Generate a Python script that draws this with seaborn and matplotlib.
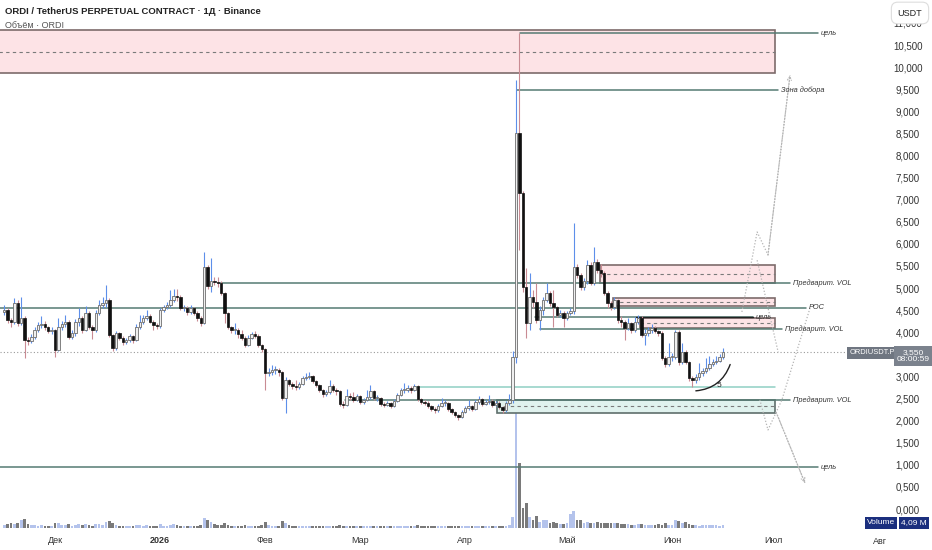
import numpy as np
import pandas as pd
import matplotlib
matplotlib.use("Agg")
import matplotlib.pyplot as plt
import seaborn as sns
from matplotlib.patches import Rectangle

# ----------------------------
# DATA (daily candles, USDT)
# ----------------------------
start_date = "2025-11-16"
first_open = 4.45

close = [4.50, 4.28, 4.23, 4.66, 4.21, 4.32, 3.82, 3.80, 3.89, 4.05,
         4.16, 4.19, 4.12, 4.03, 4.05, 3.60, 4.12, 4.19, 4.23, 3.89,
         3.98, 4.23, 4.32, 4.05, 4.43, 4.12, 4.05, 4.43, 4.62, 4.66,
         4.73, 3.94, 3.64, 3.98, 3.87, 3.78, 3.82, 3.91, 3.82, 4.12,
         4.23, 4.32, 4.37, 4.23, 4.16, 4.14, 4.50, 4.57, 4.62, 4.73,
         4.82, 4.80, 4.55, 4.55, 4.46, 4.55, 4.43, 4.32, 4.21, 5.48,
         5.05, 5.16, 5.14, 5.11, 4.89, 4.43, 4.12, 4.05, 4.05, 3.96,
         3.87, 3.71, 3.87, 3.96, 3.91, 3.71, 3.62, 3.08, 3.10, 3.14,
         3.14, 3.10, 2.51, 2.92, 2.83, 2.78, 2.76, 2.83, 2.96, 2.99,
         3.01, 2.90, 2.81, 2.69, 2.60, 2.65, 2.78, 2.69, 2.67, 2.38,
         2.35, 2.56, 2.53, 2.47, 2.56, 2.42, 2.47, 2.53, 2.67, 2.51,
         2.51, 2.38, 2.35, 2.40, 2.33, 2.44, 2.58, 2.69, 2.69, 2.74,
         2.69, 2.78, 2.49, 2.42, 2.40, 2.33, 2.26, 2.24, 2.33, 2.40,
         2.40, 2.26, 2.19, 2.13, 2.08, 2.19, 2.29, 2.33, 2.26, 2.42,
         2.49, 2.38, 2.42, 2.44, 2.35, 2.40, 2.31, 2.24, 2.40, 2.47,
         3.44, 8.51, 7.15, 5.02, 4.21, 4.80, 4.68, 4.28, 4.50, 4.73,
         4.89, 4.66, 4.57, 4.39, 4.43, 4.32, 4.43, 4.48, 5.48, 5.29,
         5.02, 5.16, 5.52, 5.11, 5.59, 5.41, 5.34, 4.89, 4.66, 4.57,
         4.73, 4.28, 4.23, 4.10, 4.21, 4.05, 4.23, 4.32, 3.94, 3.98,
         4.05, 4.10, 4.03, 3.98, 3.42, 3.28, 3.44, 3.44, 4.00, 3.33,
         3.55, 3.33, 2.96, 2.92, 2.99, 3.08, 3.12, 3.19, 3.28, 3.33,
         3.35, 3.44, 3.55]

high = [4.62, 4.55, 4.32, 4.78, 4.72, 4.80, 4.36, 3.90, 3.96, 4.12,
        4.24, 4.36, 4.26, 4.15, 4.12, 4.08, 4.32, 4.25, 4.39, 4.28,
        4.05, 4.30, 4.55, 4.36, 4.60, 4.48, 4.16, 4.50, 4.73, 4.80,
        5.07, 4.78, 3.96, 4.02, 4.00, 3.92, 3.88, 3.96, 3.93, 4.18,
        4.39, 4.38, 4.50, 4.42, 4.28, 4.22, 4.55, 4.62, 4.68, 4.95,
        4.97, 4.97, 4.84, 4.62, 4.60, 4.62, 4.58, 4.47, 4.36, 5.81,
        5.52, 5.68, 5.26, 5.25, 5.16, 4.92, 4.45, 4.15, 4.21, 4.10,
        4.05, 3.92, 3.94, 4.00, 4.02, 3.95, 3.74, 3.64, 3.18, 3.26,
        3.24, 3.20, 3.12, 2.98, 2.95, 2.87, 2.92, 2.88, 3.00, 3.08,
        3.11, 3.03, 2.93, 2.84, 2.72, 2.70, 2.92, 2.82, 2.74, 2.70,
        2.44, 2.72, 2.62, 2.65, 2.60, 2.58, 2.52, 2.69, 2.81, 2.69,
        2.58, 2.54, 2.42, 2.45, 2.43, 2.48, 2.62, 2.74, 2.85, 2.80,
        2.78, 2.84, 2.80, 2.52, 2.46, 2.44, 2.36, 2.31, 2.38, 2.51,
        2.46, 2.43, 2.29, 2.22, 2.16, 2.23, 2.34, 2.47, 2.36, 2.46,
        2.55, 2.52, 2.47, 2.58, 2.50, 2.45, 2.44, 2.34, 2.44, 2.60,
        3.58, 9.71, 10.77, 7.20, 5.45, 5.35, 4.95, 5.11, 4.60, 4.80,
        5.11, 4.93, 4.95, 4.60, 4.50, 4.47, 4.48, 4.55, 6.47, 5.55,
        5.35, 5.22, 5.63, 5.58, 5.93, 5.66, 5.55, 5.38, 4.93, 4.70,
        4.80, 4.76, 4.36, 4.28, 4.32, 4.24, 4.34, 4.40, 4.36, 4.08,
        4.12, 4.18, 4.14, 4.06, 4.02, 3.46, 3.76, 3.52, 4.05, 4.04,
        3.76, 3.60, 3.36, 3.02, 3.06, 3.30, 3.20, 3.42, 3.47, 3.40,
        3.47, 3.50, 3.65]

low = [4.40, 4.22, 4.12, 4.18, 4.15, 4.16, 3.42, 3.72, 3.76, 3.85,
       4.00, 4.10, 4.06, 3.98, 3.96, 3.45, 3.58, 4.06, 4.12, 3.84,
       3.84, 3.92, 4.15, 3.98, 4.02, 4.08, 3.85, 4.00, 4.38, 4.55,
       4.58, 3.90, 3.58, 3.60, 3.82, 3.72, 3.74, 3.78, 3.75, 3.80,
       4.08, 4.18, 4.27, 4.20, 4.05, 4.08, 4.10, 4.46, 4.52, 4.58,
       4.68, 4.70, 4.50, 4.48, 4.40, 4.42, 4.38, 4.25, 4.15, 4.18,
       4.98, 4.90, 5.06, 5.02, 4.84, 4.20, 4.08, 3.98, 3.96, 3.88,
       3.82, 3.66, 3.68, 3.84, 3.86, 3.66, 3.56, 2.69, 3.02, 3.04,
       3.06, 3.02, 2.46, 2.17, 2.78, 2.72, 2.70, 2.72, 2.80, 2.92,
       2.94, 2.86, 2.76, 2.64, 2.54, 2.56, 2.60, 2.64, 2.58, 2.34,
       2.28, 2.32, 2.46, 2.42, 2.44, 2.38, 2.38, 2.44, 2.49, 2.46,
       2.45, 2.34, 2.30, 2.32, 2.28, 2.30, 2.42, 2.55, 2.63, 2.64,
       2.62, 2.66, 2.45, 2.38, 2.35, 2.29, 2.21, 2.18, 2.20, 2.30,
       2.34, 2.22, 2.15, 2.08, 2.01, 2.06, 2.17, 2.25, 2.21, 2.24,
       2.38, 2.34, 2.35, 2.37, 2.30, 2.32, 2.27, 2.18, 2.20, 2.36,
       2.40, 3.30, 5.86, 4.90, 3.87, 4.05, 4.55, 4.20, 4.05, 4.40,
       4.68, 4.60, 4.12, 4.34, 4.35, 4.12, 4.28, 4.38, 4.42, 5.22,
       4.96, 4.96, 5.10, 5.06, 5.08, 5.35, 5.24, 4.84, 4.55, 4.50,
       4.52, 4.20, 4.12, 3.82, 4.05, 3.98, 4.00, 4.18, 3.90, 3.71,
       3.92, 3.98, 3.98, 3.92, 3.38, 3.21, 3.24, 3.36, 3.40, 3.26,
       3.28, 3.28, 2.90, 2.76, 2.86, 2.92, 3.02, 3.08, 3.14, 3.24,
       3.28, 3.32, 3.40]

# volume, millions
volume = [4, 5, 6, 5, 7, 10, 12, 5, 4, 4,
          3, 4, 3, 3, 3, 7, 6, 4, 4, 5,
          3, 4, 5, 4, 5, 4, 3, 5, 5, 4,
          8, 9, 7, 4, 3, 3, 3, 3, 3, 4,
          4, 3, 4, 3, 3, 3, 5, 3, 3, 4,
          5, 4, 3, 3, 3, 3, 3, 3, 4, 13,
          10, 8, 5, 4, 4, 6, 4, 3, 3, 3,
          3, 4, 3, 3, 3, 3, 4, 8, 4, 3,
          3, 3, 9, 7, 4, 3, 3, 3, 3, 3,
          3, 3, 3, 3, 3, 2, 3, 3, 3, 4,
          3, 3, 2, 2, 3, 3, 2, 3, 3, 3,
          2, 3, 3, 2, 2, 2, 3, 3, 3, 3,
          3, 3, 4, 3, 2, 2, 3, 2, 2, 3,
          2, 3, 3, 3, 3, 3, 3, 3, 2, 3,
          3, 3, 2, 2, 3, 2, 3, 3, 3, 4,
          14, 160, 85, 26, 32, 14, 10, 16, 8, 10,
          10, 6, 8, 6, 5, 5, 6, 18, 22, 10,
          11, 7, 8, 6, 7, 8, 7, 7, 6, 7,
          6, 6, 5, 5, 5, 4, 4, 5, 5, 4,
          4, 4, 4, 5, 4, 6, 4, 4, 10, 9,
          7, 8, 5, 4, 4, 3, 4, 4, 4, 4,
          4, 3, 4.09]

month_labels = ["Дек", "2026", "Фев", "Мар", "Апр", "Май", "Июн", "Июл"]
month_dates = ["2025-12-01", "2026-01-01", "2026-02-01", "2026-03-01",
               "2026-04-01", "2026-05-01", "2026-06-01", "2026-07-01"]

# drawn levels: (x start, x end, price, label)  x in candle index units
levels = [
    (152.2, 240.0, 10.77, "цель"),
    (151.3, 228.3, 9.48, "Зона добора"),
    (63.0, 231.8, 5.11, "Предварит. VOL"),
    (-2.0, 236.5, 4.55, "POC"),
    (156.6, 221.0, 4.34, "цель"),
    (158.0, 229.4, 4.07, "Предварит. VOL"),
    (100.5, 231.8, 2.47, "Предварит. VOL"),
    (-2.0, 240.0, 0.95, "цель"),
]
teal_line = (121.2, 227.4, 2.76)
target_black = (186.5, 221.0, 4.34)
# zones: (x start, x end, low, high, kind)
zones = [
    (-2.0, 227.4, 9.86, 10.84, "sell"),
    (175.8, 227.4, 5.11, 5.52, "sell"),
    (179.6, 227.4, 4.59, 4.77, "sell"),
    (187.6, 227.4, 4.10, 4.32, "sell"),
    (145.4, 227.4, 2.17, 2.47, "buy"),
]
# dotted projection paths (candle index, price)
path_up = [(217.6, 4.46), (222.1, 6.27), (225.3, 5.75), (231.8, 9.82)]
path_mid = [(222.1, 5.63), (228.3, 3.55)]
path_down = [(237.7, 4.55), (229.4, 2.47), (225.3, 1.79), (222.9, 2.47)]
path_tail = [(227.7, 2.19), (236.2, 0.59)]
arc_start = (203.2, 2.67)
arc_end = (214.4, 3.33)

# ----------------------------
# FRAME
# ----------------------------
dates = pd.date_range(start_date, periods=len(close), freq="D")
df = pd.DataFrame({"date": dates, "close": close, "high": high,
                   "low": low, "volume": volume})
df["open"] = df["close"].shift(1).fillna(first_open)
df["idx"] = np.arange(len(df))
df["up"] = df["close"] >= df["open"]
df["high"] = np.maximum(df["high"], df[["open", "close"]].max(axis=1))
df["low"] = np.minimum(df["low"], df[["open", "close"]].min(axis=1))
df["dir"] = np.where(df["up"], "up", "down")

t0 = pd.Timestamp(start_date)
month_pos = [(pd.Timestamp(d) - t0).days for d in month_dates]

# ----------------------------
# PLOT
# ----------------------------
sns.set_theme(style="white")
plt.rcParams["font.family"] = ["Liberation Sans", "DejaVu Sans"]

W, H = 932, 550
fig = plt.figure(figsize=(W / 100, H / 100), dpi=100)
ax = fig.add_axes([0, 22 / H, 848 / W, 1 - 22 / H])
axv = ax.twinx()

# volume underneath
sns.barplot(data=df, x="idx", y="volume", hue="dir",
            palette={"up": "#b4c3ec", "down": "#7a7a7a"},
            native_scale=True, dodge=False, width=0.8, errorbar=None,
            legend=False, saturation=1, linewidth=0, ax=axv)
axv.set_ylim(0, 687)
axv.set_yticks([])
axv.set_ylabel("")
axv.set_xlabel("")
for s in axv.spines.values():
    s.set_visible(False)

ax.set_zorder(axv.get_zorder() + 1)
ax.patch.set_visible(False)

line_col = "#557a73"
# zones
for x0, x1, lo, hi, kind in zones:
    fc = "#fde3e6" if kind == "sell" else "#e0f2ee"
    ax.add_patch(Rectangle((x0, lo), x1 - x0, hi - lo, facecolor=fc,
                           edgecolor="#7d6b6b" if kind == "sell" else "#5f6f6c",
                           lw=1.2, zorder=1))
    ax.plot([x0, x1], [(lo + hi) / 2] * 2, ls=(0, (3, 3)), color="#7a7a7a",
            lw=0.8, zorder=1)

# levels
for x0, x1, y, lab in levels:
    ax.plot([x0, x1], [y, y], color=line_col, lw=1.1, zorder=1.5)
    ax.text(x1 + 0.8, y, lab, fontsize=5.3, style="italic", color="#333333",
            va="center", ha="left", zorder=5)
ax.plot([teal_line[0], teal_line[1]], [teal_line[2]] * 2, color="#8fcfc3",
        lw=1.1, zorder=1.5)
ax.plot([target_black[0], target_black[1]], [target_black[2]] * 2,
        color="#222222", lw=1.0, zorder=1.6)

# current price
ax.axhline(close[-1], color="#9a9a9a", ls=(0, (1, 2)), lw=0.8, zorder=1)

# candles
up = df[df["up"]]
dn = df[~df["up"]]
ax.vlines(up["idx"], up["low"], up["high"], color="#5d8fea", lw=0.8, zorder=2)
ax.vlines(dn["idx"], dn["low"], dn["high"], color="#c98b93", lw=0.8, zorder=2)
body = (df["close"] - df["open"]).abs().clip(lower=0.02)
bottom = df[["open", "close"]].min(axis=1)
ax.bar(up["idx"], body[df["up"]], bottom=bottom[df["up"]], width=0.72,
       color="#efefef", edgecolor="#6e6e6e", lw=0.6, zorder=3)
ax.bar(dn["idx"], body[~df["up"]], bottom=bottom[~df["up"]], width=0.72,
       color="#111111", edgecolor="#111111", lw=0.5, zorder=3)

# projections
for pth, arrow in [(path_up, True), (path_mid, False),
                   (path_down, False), (path_tail, True)]:
    xs, ys = zip(*pth)
    ax.plot(xs, ys, color="#b5b5b5", ls=(0, (1, 1.5)), lw=0.9, zorder=1.8)
    if arrow:
        ax.annotate("", xy=pth[-1], xytext=pth[-2],
                    arrowprops=dict(arrowstyle="->", color="#b5b5b5", lw=0.8,
                                    ls=(0, (1, 1.5)), shrinkA=0, shrinkB=0,
                                    mutation_scale=7), zorder=1.8)

ax.annotate("", xy=arc_end, xytext=arc_start,
            arrowprops=dict(arrowstyle="-", color="#222222", lw=1.0,
                            connectionstyle="arc3,rad=0.35"), zorder=4)
ax.text(210.8, 2.80, "5", fontsize=6, color="#222222", ha="center",
        va="center", zorder=5)

# axes
ax.set_xlim(-1.24, 248.9)
ax.set_ylim(-0.43, 11.52)
ax.set_xticks(month_pos)
ax.set_xticklabels(month_labels)
for lab in ax.get_xticklabels():
    if lab.get_text() == "2026":
        lab.set_fontweight("bold")
ax.tick_params(axis="x", length=0, pad=6, labelsize=6.5, colors="#333333")
# 3,500 sits under the last-price badge, so it is left blank
ticks = np.arange(0, 11.01, 0.5)
ax.yaxis.tick_right()
ax.set_yticks(ticks)
ax.set_yticklabels(["" if abs(t - 3.5) < 1e-9 else f"{t:.3f}".replace(".", ",")
                    for t in ticks])
ax.tick_params(axis="y", length=0, pad=43, labelsize=7, colors="#333333")
for lab in ax.get_yticklabels():
    lab.set_ha("center")
for s in ax.spines.values():
    s.set_visible(False)
ax.grid(False)
axv.set_xlim(ax.get_xlim())

# header and price-axis labels
fig.text(5 / W, 1 - 11 / H, "ORDI / TetherUS PERPETUAL CONTRACT · 1Д · Binance",
         fontsize=6.8, fontweight="bold", color="#222222", va="center")
fig.text(5 / W, 1 - 25 / H, "Объём · ORDI", fontsize=6.5, color="#555555",
         va="center")
fig.text(910 / W, 1 - 13 / H, "USDT", fontsize=6.5, color="#222222",
         ha="center", va="center",
         bbox=dict(boxstyle="round,pad=0.7", fc="white", ec="#dddddd", lw=0.8))
fig.text(872 / W, 1 - 353 / H, "ORDIUSDT.P", fontsize=5.4, color="white",
         ha="center", va="center",
         bbox=dict(boxstyle="square,pad=0.3", fc="#6f7681", ec="none"))
fig.text(913 / W, 1 - 356 / H, "3,550\n08:00:59", fontsize=6.0, color="white",
         ha="center", va="center", linespacing=1.1,
         bbox=dict(boxstyle="square,pad=0.3", fc="#7b828d", ec="none"))
fig.text(881 / W, 1 - 523 / H, "Volume", fontsize=6, color="white",
         ha="center", va="center",
         bbox=dict(boxstyle="square,pad=0.25", fc="#1b2f7e", ec="none"))
fig.text(914 / W, 1 - 523 / H, "4,09 M", fontsize=6, color="white",
         ha="center", va="center",
         bbox=dict(boxstyle="square,pad=0.25", fc="#1b2f7e", ec="none"))
fig.text(880 / W, 1 - 541 / H, "Авг", fontsize=6.5, color="#333333",
         ha="center", va="center")

fig.savefig("out.png", dpi=100, facecolor="white")
